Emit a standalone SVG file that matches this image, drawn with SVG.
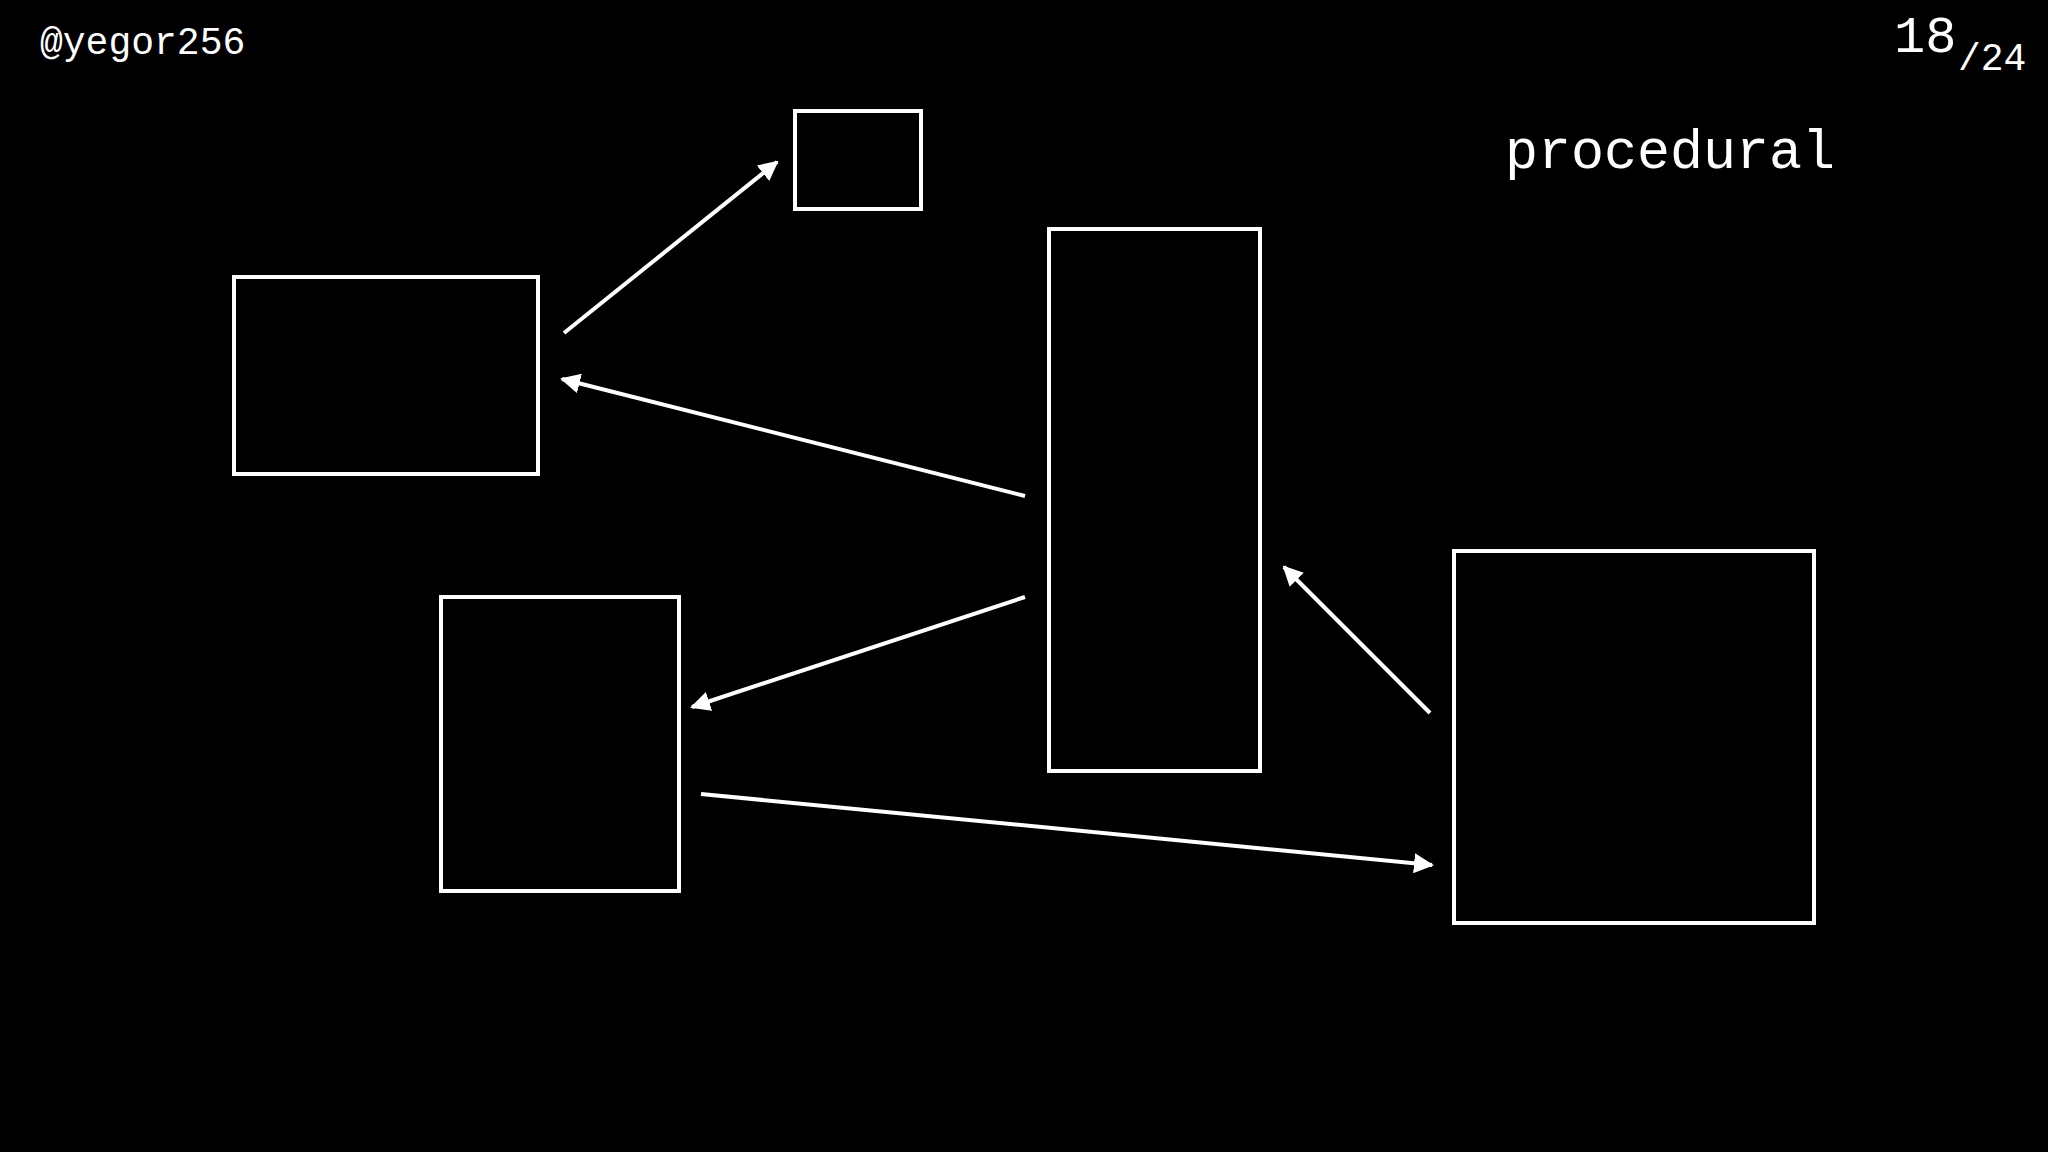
<svg xmlns="http://www.w3.org/2000/svg" width="2048" height="1152" viewBox="0 0 2048 1152">
<style>
.box{fill:none;stroke:#fff;stroke-width:4}
.ln{stroke:#fff;stroke-width:4;fill:none;marker-end:url(#ah)}
text{fill:#fff;font-family:"Liberation Mono","DejaVu Sans Mono",monospace}
</style>
<defs><marker id="ah" viewBox="0 0 10 10" refX="9" refY="5" markerWidth="5" markerHeight="5" orient="auto" markerUnits="strokeWidth"><path d="M0,0 L10,5 L0,10 z" fill="#fff"/></marker></defs>
<rect width="2048" height="1152" fill="#000"/>
<text x="40" y="54" font-size="38">@yegor256</text>
<text x="1894" y="52" font-size="52">18</text>
<text x="1958" y="70" font-size="38">/24</text>
<text x="1505" y="168" font-size="55">procedural</text>
<g id="nA"><rect class="box" x="234" y="277" width="304" height="197"/></g>
<g id="nB"><rect class="box" x="795" y="111" width="126" height="98"/></g>
<g id="nC"><rect class="box" x="1049" y="229" width="211" height="542"/></g>
<g id="nD"><rect class="box" x="441" y="597" width="238" height="294"/></g>
<g id="nE"><rect class="box" x="1454" y="551" width="360" height="372"/></g>
<g id="connectors">
<line class="ln" x1="564" y1="333" x2="777" y2="162"/>
<line class="ln" x1="1025" y1="496" x2="562" y2="379"/>
<line class="ln" x1="1025" y1="597" x2="692" y2="707"/>
<line class="ln" x1="701" y1="794" x2="1432" y2="865"/>
<line class="ln" x1="1430" y1="713" x2="1284" y2="567"/>
</g>
</svg>
